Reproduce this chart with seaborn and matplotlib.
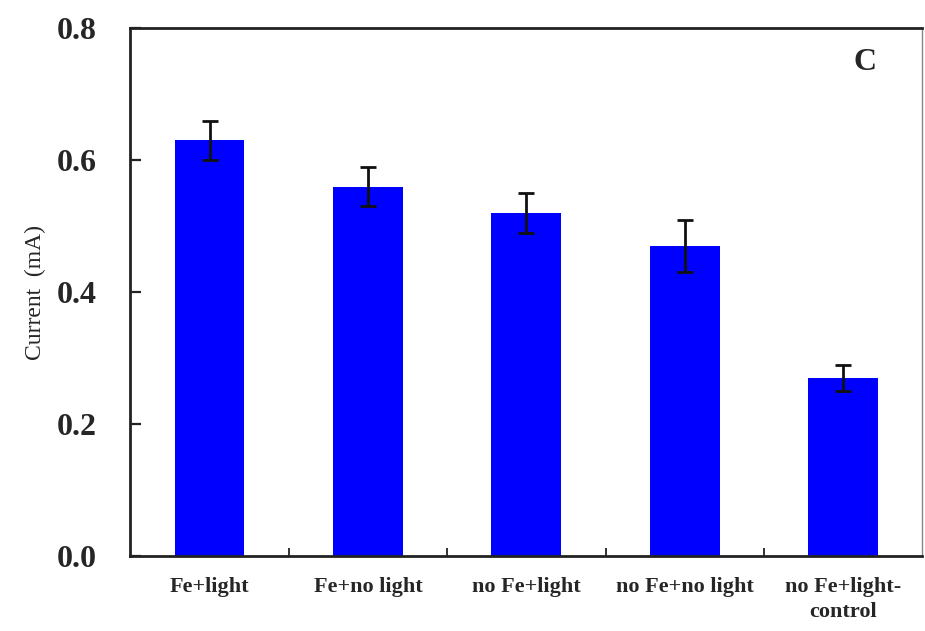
import matplotlib
matplotlib.use("Agg")
import matplotlib.pyplot as plt
import seaborn as sns
import pandas as pd

categories = ["Fe+light", "Fe+no light", "no Fe+light", "no Fe+no light", "no Fe+light-\ncontrol"]
current = [0.63, 0.56, 0.52, 0.47, 0.27]
errors = [0.03, 0.03, 0.03, 0.04, 0.02]
yticks = [0.0, 0.2, 0.4, 0.6, 0.8]

sns.set_theme(style="ticks")
plt.rcParams["font.family"] = ["Liberation Serif", "DejaVu Serif"]
plt.rcParams["axes.axisbelow"] = False

df = pd.DataFrame({"cat": categories, "val": current})

fig = plt.figure(figsize=(9.25, 6.31), dpi=100)
ax = fig.add_axes([0.141, 0.119, 0.856, 0.836])

sns.barplot(data=df, x="cat", y="val", color="#0000FF", saturation=1, width=0.44,
            errorbar=None, ax=ax, edgecolor="#0000FF", linewidth=0)
ax.errorbar(range(len(categories)), current, yerr=errors, fmt="none",
            ecolor="#111111", elinewidth=2, capsize=6, capthick=2, zorder=5)

ax.set_xlim(-0.5, len(categories) - 0.5)
ax.set_ylim(0, 0.8)
ax.set_yticks(yticks)
ax.set_yticklabels([f"{t:.1f}" for t in yticks], fontsize=23, fontweight="bold")
ax.set_xticks(range(len(categories)))
ax.set_xticklabels(categories, fontsize=16, fontweight="bold", linespacing=1.35)
ax.set_xticks([i + 0.5 for i in range(len(categories) - 1)], minor=True)
ax.tick_params(axis="x", which="major", length=0, pad=15)
ax.tick_params(axis="x", which="minor", direction="in", length=6, width=1.3,
               bottom=True, color="#222222")
ax.tick_params(axis="y", which="major", direction="in", length=8, width=1.6,
               left=True, right=False, color="#222222", pad=24)
ax.set_xlabel("")
ax.set_ylabel("Current  (mA)", fontsize=17, labelpad=8)

for side, sp in ax.spines.items():
    sp.set_visible(True)
    sp.set_linewidth(2 if side in ("left", "bottom", "top") else 1)
    sp.set_color("#222222" if side != "right" else "#888888")

ax.text(0.928, 0.935, "C", transform=ax.transAxes, fontsize=23, fontweight="bold",
        ha="center", va="center")

fig.savefig("out.png", dpi=100)
